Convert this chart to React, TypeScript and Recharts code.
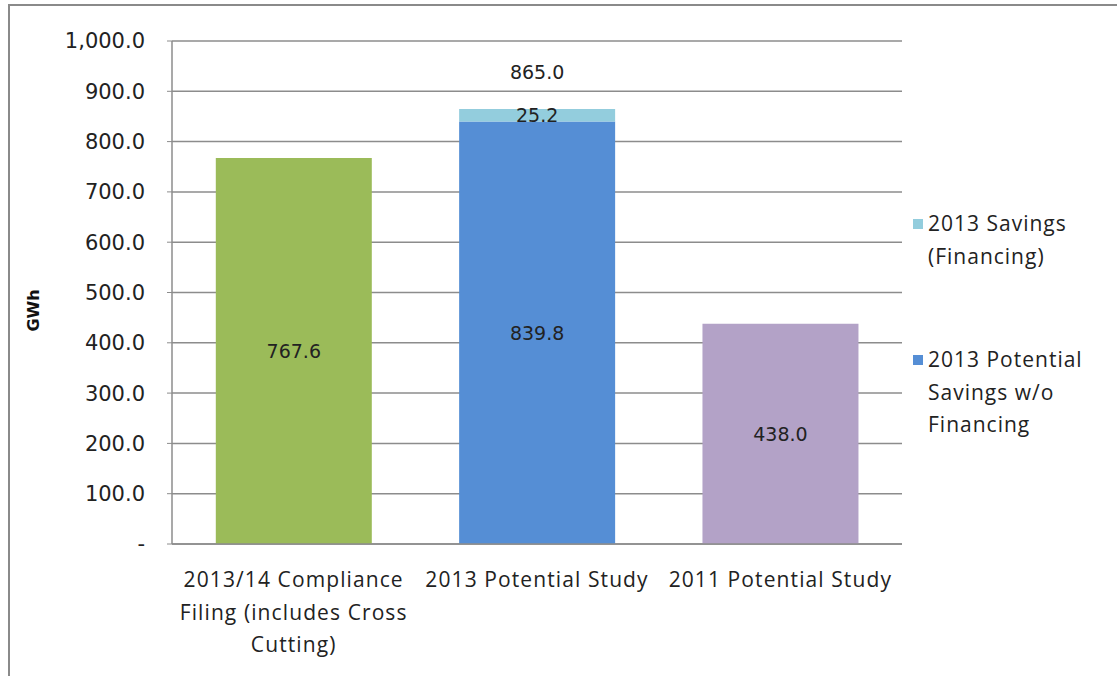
import React from "react";
import {
  BarChart,
  Bar,
  XAxis,
  YAxis,
  CartesianGrid,
  Cell,
  LabelList,
  Label,
} from "recharts";

const categories = [
  "2013/14 Compliance|Filing (includes Cross|Cutting)",
  "2013 Potential Study",
  "2011 Potential Study",
];
const baseValues = [767.6, 839.8, 438.0];
const financingValues = [0, 25.2, 0];
const baseColors = ["#9BBB59", "#558ED5", "#B3A2C7"];
const financingColor = "#93CDDD";
const yTicks = [0, 100, 200, 300, 400, 500, 600, 700, 800, 900, 1000];
const seriesNames = ["2013 Savings (Financing)", "2013 Potential Savings w/o Financing"];

const data = categories.map((name, i) => ({
  name,
  base: baseValues[i],
  financing: financingValues[i],
  total: baseValues[i] + financingValues[i],
}));

const tickFont = "'DejaVu Sans', Verdana, sans-serif";
const textFont = "'Open Sans', 'Liberation Sans', sans-serif";

const fmt = (v: number) =>
  v === 0
    ? "-"
    : v.toLocaleString("en-US", { minimumFractionDigits: 1, maximumFractionDigits: 1 });

function CategoryTick(props: any) {
  const { x, y, payload } = props;
  const lines = String(payload.value).split("|");
  return (
    <text
      x={x}
      y={y}
      textAnchor="middle"
      fontFamily={textFont}
      fontSize={21}
      letterSpacing={1.1}
      fill="#222"
    >
      {lines.map((l, i) => (
        <tspan key={i} x={x} dy={i === 0 ? 35 : 32.5}>
          {l}
        </tspan>
      ))}
    </text>
  );
}

function renderTotal(p: any) {
  const { x, y, width, value } = p;
  const idx = data.findIndex((d) => d.total === Number(value));
  if (idx < 0 || financingValues[idx] === 0) return null;
  return (
    <text
      x={Number(x) + Number(width) / 2}
      y={Number(y) - 30}
      textAnchor="middle"
      fontFamily={tickFont}
      fontSize={19}
      fill="#222"
    >
      {fmt(data[idx].total)}
    </text>
  );
}

function renderYLabel(p: any) {
  const vb = p.viewBox || {};
  const cx = 33;
  const cy = (vb.y ?? 41) + (vb.height ?? 503) / 2 + 18;
  return (
    <text
      x={cx}
      y={cy}
      transform={`rotate(-90, ${cx}, ${cy})`}
      textAnchor="middle"
      dominantBaseline="central"
      fontFamily={tickFont}
      fontSize={16}
      fontWeight="bold"
      fill="#111"
    >
      GWh
    </text>
  );
}

function LegendBox() {
  const items = [
    { name: seriesNames[0], color: financingColor, top: 207, lines: ["2013 Savings", "(Financing)"] },
    {
      name: seriesNames[1],
      color: baseColors[1],
      top: 343,
      lines: ["2013 Potential", "Savings w/o", "Financing"],
    },
  ];
  return (
    <>
      {items.map((it) => (
        <div
          key={it.name}
          style={{
            position: "absolute",
            left: 913,
            top: it.top,
            fontFamily: textFont,
            fontSize: 21,
            letterSpacing: 1,
            lineHeight: "32.5px",
            color: "#222",
          }}
        >
          <span
            style={{
              position: "absolute",
              left: 0,
              top: 12,
              width: 10,
              height: 10,
              background: it.color,
            }}
          />
          <div style={{ marginLeft: 15 }}>
            {it.lines.map((l) => (
              <div key={l}>{l}</div>
            ))}
          </div>
        </div>
      ))}
    </>
  );
}

export default function App() {
  return (
    <div
      style={{
        position: "absolute",
        left: 0,
        top: 0,
        width: 1117,
        height: 676,
        background: "#fff",
        overflow: "hidden",
      }}
    >
      <div
        style={{
          position: "absolute",
          left: 8,
          top: 4,
          width: 1140,
          height: 700,
          borderLeft: "2px solid #8a8a8a",
          borderTop: "2px solid #8a8a8a",
        }}
      />
      <BarChart
        width={1117}
        height={676}
        data={data}
        margin={{ top: 41, right: 215, bottom: 22, left: 0 }}
        barCategoryGap="18%"
      >
        <CartesianGrid vertical={false} stroke="#8c8c8c" strokeWidth={1.5} />
        <XAxis
          dataKey="name"
          height={110}
          tick={<CategoryTick />}
          tickLine={false}
          axisLine={{ stroke: "#8c8c8c", strokeWidth: 1.5 }}
          interval={0}
        />
        <YAxis
          width={172}
          domain={[0, 1000]}
          ticks={yTicks}
          tickFormatter={fmt}
          tick={{ fontFamily: tickFont, fontSize: 21, fill: "#222" }}
          tickLine={{ stroke: "#8c8c8c" }}
          tickSize={5}
          tickMargin={22}
          axisLine={{ stroke: "#8c8c8c", strokeWidth: 1.5 }}
        >
          <Label content={renderYLabel} />
        </YAxis>
        <Bar dataKey="base" stackId="a" isAnimationActive={false} name={seriesNames[1]}>
          {data.map((_, i) => (
            <Cell key={i} fill={baseColors[i]} />
          ))}
          <LabelList
            dataKey="base"
            position="center"
            formatter={(v: any) => fmt(Number(v))}
            style={{ fontFamily: tickFont, fontSize: 19, fill: "#222" }}
          />
        </Bar>
        <Bar
          dataKey="financing"
          stackId="a"
          fill={financingColor}
          isAnimationActive={false}
          name={seriesNames[0]}
        >
          <LabelList
            dataKey="financing"
            position="center"
            formatter={(v: any) => (Number(v) === 0 ? "" : fmt(Number(v)))}
            style={{ fontFamily: tickFont, fontSize: 19, fill: "#222" }}
          />
          <LabelList dataKey="total" content={renderTotal} />
        </Bar>
      </BarChart>
      <LegendBox />
    </div>
  );
}
